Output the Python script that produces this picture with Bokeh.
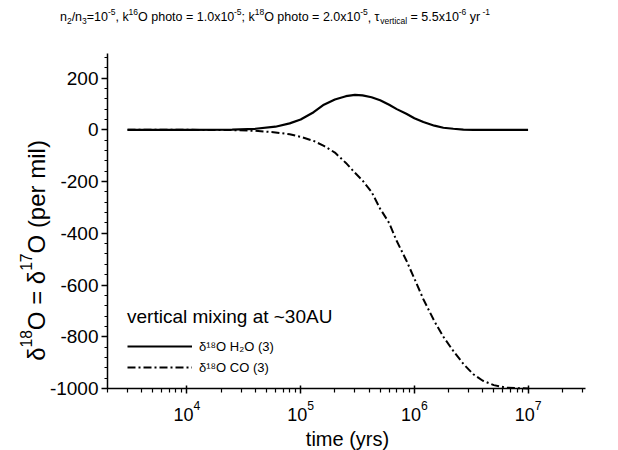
import math
from bokeh.plotting import figure
from bokeh.models import (Label, Legend, LegendItem, FixedTicker, SingleIntervalTicker,
                          CustomJSTickFormatter, Range1d, LogAxis, LinearAxis)
from bokeh.embed import file_html
from bokeh.resources import INLINE

# ---------------- data ----------------
time_yrs = [3e3, 1e4, 2.5e4, 4e4, 6e4, 8e4, 1e5, 1.3e5, 1.6e5, 2e5, 2.5e5, 3e5, 3.5e5,
            4.2e5, 5e5, 6e5, 7e5, 8.5e5, 1e6, 1.2e6, 1.5e6, 1.8e6, 2.2e6, 2.7e6, 3.3e6,
            4e6, 5e6, 6.5e6, 1e7]
d18O_H2O = [0, 0, 1, 4, 12, 25, 40, 68, 97, 117, 130, 135, 133, 126, 114, 97, 80, 62, 45,
            30, 16, 8, 4, 1, 0, 0, 0, 0, 0]
d18O_CO = [0, 0, -1, -4, -10, -17, -27, -43, -62, -88, -128, -166, -196, -240, -305, -360,
           -430, -505, -575, -655, -740, -800, -855, -905, -945, -970, -987, -997, -1000]

x_axis_min, x_axis_max = 2e3, 3.2e7
y_axis_min, y_axis_max = -1000, 295
x_major_ticks = [1e4, 1e5, 1e6, 1e7]
x_minor_ticks = [m * 10 ** e for e in range(3, 8) for m in range(2, 10)
                 if x_axis_min <= m * 10 ** e <= x_axis_max]
y_tick_interval = 200
legend_title = "vertical mixing at ~30AU"
legend_labels = ["δ¹⁸O H₂O (3)", "δ¹⁸O CO (3)"]

FONT = "Liberation Sans"

# ---------------- layout (pixels) ----------------
W_PX, H_PX = 618, 450
BOX_L, BOX_R, BOX_T, BOX_B = 107, 585, 53, 388   # axes box inside the canvas
TXT_DY = 0.25                                       # baseline correction (fraction of size)

lx0, lx1 = math.log10(x_axis_min), math.log10(x_axis_max)
ppd = (BOX_R - BOX_L) / (lx1 - lx0)
ppu = (BOX_B - BOX_T) / (y_axis_max - y_axis_min)
x_lo = 10 ** (lx0 - BOX_L / ppd)
x_hi = 10 ** (lx1 + (W_PX - BOX_R) / ppd)
y_lo = y_axis_min - (H_PX - BOX_B) / ppu
y_hi = y_axis_max + BOX_T / ppu

# Arial/Liberation Sans advance widths (per 1000 em)
W = {' ': 278, ',': 278, '.': 278, '-': 333, '/': 278, ';': 278, '=': 584, '(': 333,
     ')': 333, '~': 584, 'A': 667, 'C': 722, 'H': 722, 'O': 778, 'U': 722, 'a': 556,
     'c': 500, 'e': 556, 'g': 556, 'h': 556, 'i': 222, 'k': 500, 'l': 222, 'm': 833,
     'n': 556, 'o': 556, 'p': 556, 'r': 333, 's': 500, 't': 278, 'v': 500, 'x': 500,
     'y': 500, 'τ': 450, 'δ': 556}
for d in "0123456789":
    W[d] = 556


def tw(s, size):
    return sum(W.get(c, 556) for c in s) * size / 1000.0


def rich(p, segs, x, y, size, x_units="screen", y_units="screen", align="center",
         angle=0.0, small=0.66, rise=0.42, drop=0.22):
    parts = []
    for txt, kind in segs:
        fs = size if kind == "n" else size * small
        off = 0.0 if kind == "n" else (size * rise if kind == "sup" else -size * drop)
        parts.append((txt, fs, tw(txt, fs), off))
    total = sum(pt[2] for pt in parts)
    pos = -total / 2.0 if align == "center" else 0.0
    corr = TXT_DY * size
    for txt, fs, w, off in parts:
        stripped = txt.lstrip()
        lead = tw(txt[:len(txt) - len(stripped)], fs)
        along = pos + lead
        if angle == 0:
            dx, dy = along, off + corr
        else:
            dx, dy = -off - corr, along
        kw = {}
        if x_units == "screen":
            xx = x + dx
        else:
            xx = x
            kw["x_offset"] = dx
        if y_units == "screen":
            yy = y + dy
        else:
            yy = y
            kw["y_offset"] = dy
        if stripped.strip():
            p.add_layout(Label(x=xx, y=yy, x_units=x_units, y_units=y_units,
                               text=stripped.rstrip(),
                               text_font=FONT, text_font_size=f"{fs:.1f}px",
                               text_baseline="alphabetic", text_align="left",
                               text_color="black", angle=angle, **kw))
        pos += w


p = figure(width=W_PX, height=H_PX, x_axis_type="log",
           x_range=Range1d(x_lo, x_hi), y_range=Range1d(y_lo, y_hi),
           x_axis_location=None, y_axis_location=None,
           output_backend="svg", toolbar_location=None,
           min_border_left=0, min_border_right=0, min_border_top=0, min_border_bottom=0)
p.title.visible = False
p.outline_line_color = None
p.grid.visible = False
p.background_fill_color = "white"
p.border_fill_color = "white"

r_co = p.line(time_yrs, d18O_CO, line_color="black", line_width=2, line_dash="8 3 2 3")
r_h2o = p.line(time_yrs, d18O_H2O, line_color="black", line_width=2.2)

# axes (fixed at the edges of the axes box)
xa = LogAxis(fixed_location=y_axis_min, bounds=(x_axis_min, x_axis_max),
             ticker=FixedTicker(ticks=x_major_ticks, minor_ticks=x_minor_ticks),
             formatter=CustomJSTickFormatter(code="return ''"))
xa.axis_line_width = 1.5
xa.major_tick_line_width = 1.5
xa.minor_tick_line_width = 1.2
xa.major_tick_in = 3
xa.major_tick_out = 5
xa.minor_tick_in = 0
xa.minor_tick_out = 4
p.add_layout(xa, "below")

ya = LinearAxis(fixed_location=x_axis_min, bounds=(y_axis_min, y_axis_max),
                ticker=SingleIntervalTicker(interval=y_tick_interval, num_minor_ticks=5),
                formatter=CustomJSTickFormatter(code="return tick.toFixed(0)"))
ya.axis_line_width = 1.5
ya.major_tick_line_width = 1.5
ya.minor_tick_line_width = 1.2
ya.major_tick_in = 0
ya.major_tick_out = 6
ya.minor_tick_in = 0
ya.minor_tick_out = 3
ya.major_label_standoff = 3
ya.major_label_text_font = FONT
ya.major_label_text_font_size = "19px"
ya.major_label_text_color = "black"
p.add_layout(ya, "left")

# x tick labels 10^n
for t in x_major_ticks:
    e = int(round(math.log10(t)))
    rich(p, [("10", "n"), (str(e), "sup")], t, H_PX - 418, 18, x_units="data",
         y_units="screen", small=0.68, rise=0.45)

# axis titles
rich(p, [("time (yrs)", "n")], 347, H_PX - 443, 20)
rich(p, [("δ", "n"), ("18", "sup"), ("O = δ", "n"), ("17", "sup"), ("O (per mil)", "n")],
     42, H_PX - 250, 24, angle=math.pi / 2, small=0.65, rise=0.42)

# chart title
title_segs = [("n", "n"), ("2", "sub"), ("/n", "n"), ("3", "sub"), ("=10", "n"), ("-5", "sup"),
              (", k", "n"), ("16", "sup"), ("O photo = 1.0x10", "n"), ("-5", "sup"),
              ("; k", "n"), ("18", "sup"), ("O photo = 2.0x10", "n"), ("-5", "sup"),
              (", ", "n"), ("τ", "n"), ("vertical", "sub"), (" = 5.5x10", "n"), ("-6", "sup"),
              (" yr", "n"), (" -1", "sup")]
em = sum(tw(t, 1.0 if k == "n" else 0.68) for t, k in title_segs)
title_size = 430.0 / em
rich(p, title_segs, 274.5, H_PX - 20, title_size, small=0.68, rise=0.45, drop=0.25)

legend = Legend(items=[LegendItem(label=legend_labels[0], renderers=[r_h2o]),
                       LegendItem(label=legend_labels[1], renderers=[r_co])],
                location=(BOX_L + 20, H_PX - BOX_B + 11), title=legend_title)
legend.title_text_font = FONT
legend.title_text_font_size = "19px"
legend.title_text_font_style = "normal"
legend.title_text_color = "black"
legend.title_standoff = 8
legend.label_text_font = FONT
legend.label_text_font_size = "13px"
legend.label_text_color = "black"
legend.glyph_width = 65
legend.glyph_height = 20
legend.label_height = 20
legend.label_standoff = 7
legend.spacing = 1
legend.padding = 0
legend.margin = 0
legend.border_line_color = None
legend.background_fill_alpha = 0
p.add_layout(legend)

open("out.html", "w").write(file_html(p, INLINE))
